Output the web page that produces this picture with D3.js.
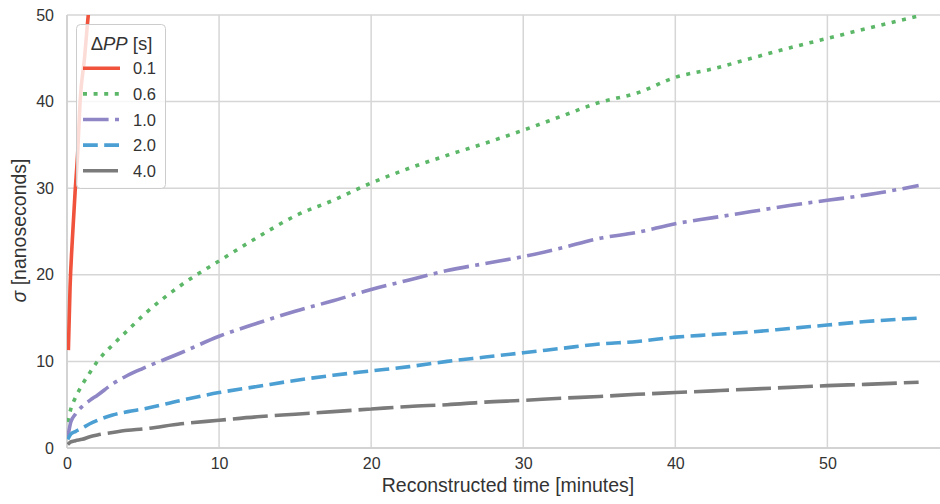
<!DOCTYPE html>
<html><head><meta charset="utf-8">
<script src="https://cdn.jsdelivr.net/npm/d3@7"></script>
<style>body{margin:0;background:#fff;}svg{display:block;font-family:"Liberation Sans",Arial,sans-serif;}</style>
</head><body><svg id="c" width="940" height="504"></svg>
<script>
// ---- data ----
const times = [0.05,0.25,0.55,1.0,1.5,2.0,3.0,4.0,5.0,7.5,10,12.5,15,17.5,20,22.5,25,27.5,30,32.5,35,37.5,40,42.5,45,47.5,50,52.5,56];
const sigma06 = [3.0,4.5,5.8,7.3,8.7,10.0,11.9,13.6,15.3,18.8,21.6,24.3,26.8,28.6,30.6,32.3,33.8,35.2,36.7,38.3,39.9,41.0,42.8,43.8,45.0,46.2,47.3,48.4,49.9];
const sigma10 = [1.2,3.0,3.9,4.8,5.5,6.1,7.4,8.4,9.2,11.0,12.9,14.4,15.8,17.0,18.3,19.4,20.5,21.3,22.1,23.1,24.2,24.9,25.9,26.6,27.3,28.0,28.6,29.2,30.3];
const sigma20 = [1.0,1.6,1.9,2.3,2.8,3.2,3.8,4.2,4.5,5.5,6.4,7.1,7.8,8.4,8.9,9.4,10.0,10.5,11.0,11.5,12.0,12.3,12.8,13.1,13.4,13.8,14.2,14.6,15.0];
const sigma40 = [0.4,0.7,0.85,1.0,1.3,1.5,1.8,2.05,2.2,2.8,3.2,3.6,3.9,4.2,4.5,4.8,5.0,5.3,5.5,5.75,5.95,6.2,6.4,6.6,6.8,7.0,7.2,7.35,7.6];
const times01 = [0.09,0.2,0.35,0.53,0.7,0.86,1.15,1.4,1.7];
const sigma01 = [11.3,18.5,24.0,29.5,34.0,40.0,45.0,50.0,54.0];
const seriesLabels = ["0.1","0.6","1.0","2.0","4.0"];
const xTicks = [0,10,20,30,40,50];
const yTicks = [0,10,20,30,40,50];

const series = [
  {label:seriesLabels[0], t:times01, v:sigma01, color:"#f0523b", dash:null},
  {label:seriesLabels[1], t:times, v:sigma06, color:"#5cb868", dash:"4,6.6"},
  {label:seriesLabels[2], t:times, v:sigma10, color:"#8e86c5", dash:"25.6,6.4,4,6.4"},
  {label:seriesLabels[3], t:times, v:sigma20, color:"#4b9fd3", dash:"14.8,6.4"},
  {label:seriesLabels[4], t:times, v:sigma40, color:"#7b7b7b", dash:"35,7"}
];

const svg = d3.select("#c");
const L=67, T=15, R=946, B=448;
const x = d3.scaleLinear().domain([0,57.8]).range([L,R]);
const y = d3.scaleLinear().domain([0,50]).range([B,T]);

svg.append("defs").append("clipPath").attr("id","clip")
  .append("rect").attr("x",L).attr("y",T).attr("width",R-L).attr("height",B-T);

const grid = svg.append("g");
grid.selectAll(".gx").data(xTicks).join("line")
  .attr("x1",d=>x(d)).attr("x2",d=>x(d)).attr("y1",T).attr("y2",B)
  .attr("stroke","#d6d6d6").attr("stroke-width",1.5);
grid.selectAll(".gy").data(yTicks).join("line")
  .attr("x1",L).attr("x2",R).attr("y1",d=>y(d)).attr("y2",d=>y(d))
  .attr("stroke","#d6d6d6").attr("stroke-width",1.5);
svg.append("line").attr("x1",L).attr("x2",L).attr("y1",T).attr("y2",B).attr("stroke","#cfcfcf").attr("stroke-width",1.5);
svg.append("line").attr("x1",L).attr("x2",R).attr("y1",B).attr("y2",B).attr("stroke","#cfcfcf").attr("stroke-width",1.5);

const xAxis = svg.append("g").attr("transform",`translate(0,${B})`)
  .call(d3.axisBottom(x).tickValues(xTicks).tickSize(0).tickPadding(10).tickFormat(d3.format("d")));
const yAxis = svg.append("g").attr("transform",`translate(${L},0)`)
  .call(d3.axisLeft(y).tickValues(yTicks).tickSize(0).tickPadding(13).tickFormat(d3.format("d")));
[xAxis,yAxis].forEach(a=>{
  a.select(".domain").remove();
  a.selectAll("text").attr("font-size",16).attr("fill","#333").attr("font-family","Liberation Sans, Arial, sans-serif");
});

const line = d3.line().x(d=>x(d[0])).y(d=>y(d[1])).curve(d3.curveMonotoneX);
const lg = svg.append("g").attr("clip-path","url(#clip)");
series.forEach(s=>{
  lg.append("path").datum(s.t.map((t,i)=>[t,s.v[i]]))
    .attr("d",line).attr("fill","none").attr("stroke",s.color)
    .attr("stroke-width",3.6).attr("stroke-dasharray",s.dash)
    .attr("stroke-linecap","butt");
});

svg.append("text").attr("x",508).attr("y",492).attr("text-anchor","middle")
  .attr("font-size",19.5).attr("fill","#333").text("Reconstructed time [minutes]");
const yl = svg.append("text").attr("transform","translate(26,230.5) rotate(-90)")
  .attr("text-anchor","middle").attr("font-size",19.5).attr("fill","#333");
yl.append("tspan").attr("font-style","italic").text("σ");
yl.append("tspan").text(" [nanoseconds]");

const leg = svg.append("g");
leg.append("rect").attr("x",76.5).attr("y",24.5).attr("width",89).attr("height",164)
  .attr("rx",4).attr("fill","rgba(255,255,255,0.8)").attr("stroke","#cccccc").attr("stroke-width",1);
const lt = leg.append("text").attr("x",121.5).attr("y",50).attr("text-anchor","middle")
  .attr("font-size",18.5).attr("fill","#333");
lt.append("tspan").text("Δ");
lt.append("tspan").attr("font-style","italic").text("PP");
lt.append("tspan").text(" [s]");
series.forEach((s,i)=>{
  const yy = 68.3 + i*25.6;
  leg.append("line").attr("x1",83).attr("x2",120).attr("y1",yy).attr("y2",yy)
    .attr("stroke",s.color).attr("stroke-width",3.6).attr("stroke-dasharray",s.dash);
  leg.append("text").attr("x",133).attr("y",yy+6).attr("font-size",16.5).attr("fill","#333").text(s.label);
});
</script></body></html>
